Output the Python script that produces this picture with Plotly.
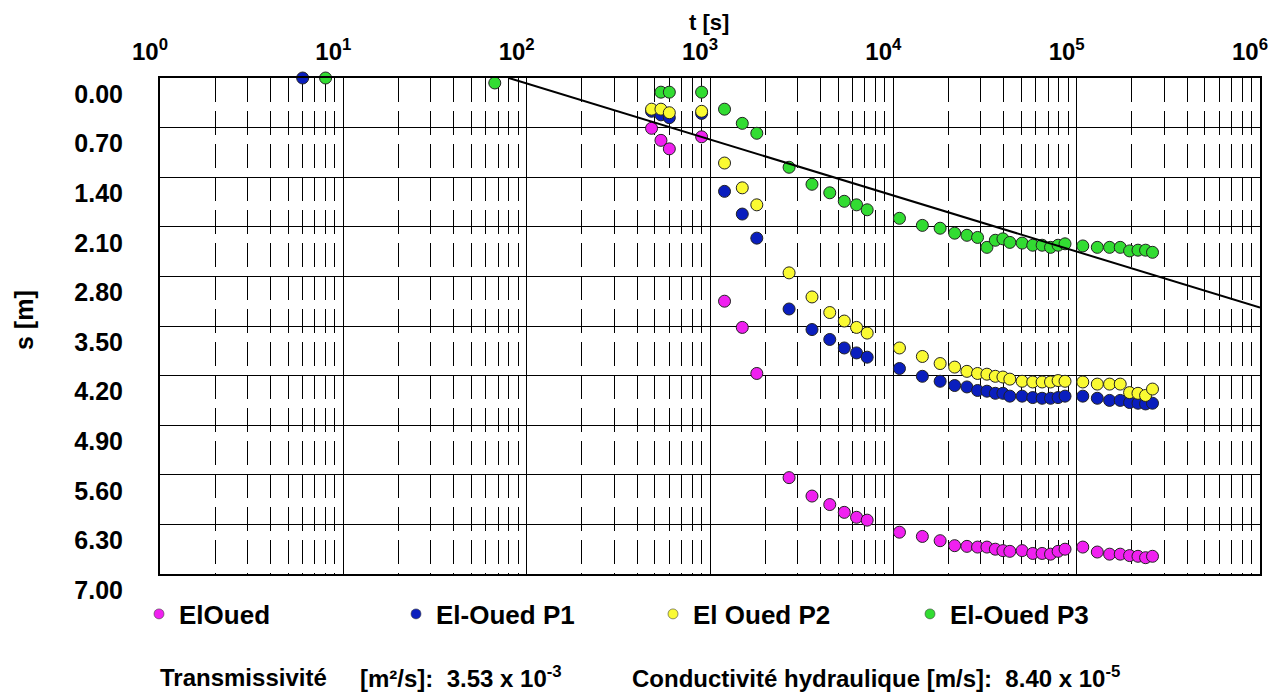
import plotly.graph_objects as go

# ---------------- data ----------------
t_common = [480, 540, 600, 900, 1200, 1500, 1800, 2700, 3600, 4500, 5400, 6300, 7200,
            10800, 14400, 18000, 21600, 25200, 28800, 32400, 36000, 39600, 43200,
            50400, 57600, 64800, 72000, 79200, 86400,
            108000, 129600, 151200, 172800, 194400, 216000, 237600, 259200]

s_eloued = [0.71, 0.88, 1.00, 0.83, 3.15, 3.52, 4.17, 5.64, 5.90, 6.02, 6.13, 6.20, 6.24,
            6.41, 6.47, 6.53, 6.60, 6.61, 6.62, 6.62, 6.65, 6.67, 6.68,
            6.67, 6.71, 6.71, 6.72, 6.68, 6.65,
            6.62, 6.69, 6.72, 6.72, 6.74, 6.75, 6.77, 6.75]

t_p1 = [6] + t_common
s_p1 = [0.0, 0.47, 0.52, 0.56, 0.50, 1.60, 1.92, 2.26, 3.26, 3.55, 3.69, 3.81, 3.88, 3.94,
        4.10, 4.21, 4.28, 4.34, 4.36, 4.41, 4.42, 4.45, 4.45, 4.49,
        4.49, 4.51, 4.52, 4.52, 4.51, 4.49,
        4.49, 4.52, 4.55, 4.55, 4.58, 4.59, 4.60, 4.59]

s_p2 = [0.44, 0.44, 0.49, 0.47, 1.20, 1.55, 1.79, 2.75, 3.09, 3.31, 3.43, 3.52, 3.60,
        3.81, 3.93, 4.03, 4.08, 4.14, 4.17, 4.18, 4.21, 4.22, 4.25,
        4.28, 4.29, 4.29, 4.29, 4.27, 4.28,
        4.29, 4.32, 4.32, 4.32, 4.44, 4.45, 4.48, 4.39]

t_p3 = [8, 67] + t_common[1:]
s_p3 = [0.0, 0.07, 0.20, 0.20, 0.20, 0.44, 0.64, 0.78, 1.26, 1.50, 1.62, 1.74, 1.79, 1.86,
        1.98, 2.08, 2.12, 2.19, 2.22, 2.25, 2.39, 2.29, 2.27, 2.32,
        2.33, 2.36, 2.36, 2.39, 2.36, 2.34,
        2.37, 2.39, 2.39, 2.39, 2.44, 2.43, 2.43, 2.46]

# Cooper-Jacob straight line (end points)
t_fit = [80, 1000000]
s_fit = [0.0, 3.24]

series_names = ["ElOued", "El-Oued P1", "El Oued P2", "El-Oued P3"]
series_colors = ["#F020F0", "#0A1EBE", "#FAFA32", "#32DC32"]

x_tickvals = [1, 10, 100, 1000, 10000, 100000, 1000000]
x_ticktext = ["10<sup>%d</sup>" % i for i in range(7)]
y_tickvals = [0.0, 0.7, 1.4, 2.1, 2.8, 3.5, 4.2, 4.9, 5.6, 6.3, 7.0]
y_ticktext = ["0.00", "0.70", "1.40", "2.10", "2.80", "3.50", "4.20", "4.90", "5.60", "6.30", "7.00"]
minor_vals = [k * 10 ** n for n in range(6) for k in range(2, 10)]

# ---------------- figure ----------------
FONT = "Arial, 'Liberation Sans', sans-serif"
fig = go.Figure()

data_sets = [(t_common, s_eloued), (t_p1, s_p1), (t_common, s_p2), (t_p3, s_p3)]
for (tx, sy), nm, col in zip(data_sets, series_names, series_colors):
    fig.add_trace(go.Scatter(x=tx, y=sy, mode="markers", name=nm, showlegend=False,
                             cliponaxis=False,
                             marker=dict(size=12, color=col, line=dict(color="#222222", width=1))))

fig.add_trace(go.Scatter(x=t_fit, y=s_fit, mode="lines", showlegend=False,
                         line=dict(color="black", width=2)))

for nm, col in zip(series_names, series_colors):
    fig.add_trace(go.Scatter(x=[None], y=[None], mode="markers", name=nm,
                             marker=dict(size=10, color=col, line=dict(color="#444444", width=0.6))))

PX0, PY0, PW, PH = 160, 78, 1100, 496   # plot area in page pixels


def px(xp):
    return (xp - PX0) / PW


def py(yp):
    return (PY0 + PH - yp) / PH


fig.update_layout(
    width=1277, height=686,
    margin=dict(l=152, r=25, t=70, b=120),
    paper_bgcolor="white", plot_bgcolor="white",
    font=dict(family=FONT, color="black"),
    xaxis=dict(type="log", range=[0, 6], side="top",
               tickmode="array", tickvals=x_tickvals, ticktext=x_ticktext,
               tickfont=dict(family=FONT, size=24, color="black", weight="bold"),
               ticks="", ticklabelstandoff=6, ticklabelshift=-10,
               showgrid=True, gridcolor="black", gridwidth=1,
               showline=True, mirror=True, linecolor="black", linewidth=2,
               zeroline=False,
               minor=dict(tickmode="array", tickvals=minor_vals, showgrid=True,
                          gridcolor="black", gridwidth=1, griddash="24px,9px", ticks="")),
    yaxis=dict(range=[7, 0], tickmode="array", tickvals=y_tickvals, ticktext=y_ticktext,
               tickfont=dict(family=FONT, size=25, color="black", weight="bold"),
               ticks="", ticklabelstandoff=30, ticklabelshift=-16,
               showgrid=True, gridcolor="black", gridwidth=1,
               showline=True, mirror=True, linecolor="black", linewidth=2,
               zeroline=False),
    legend=dict(orientation="h", x=px(139), xanchor="left", y=py(614), yanchor="middle",
                font=dict(family=FONT, size=26, color="black", weight="bold"),
                entrywidth=212, entrywidthmode="pixels", bgcolor="rgba(0,0,0,0)"),
    annotations=[
        dict(text="<b>t [s]</b>", xref="paper", yref="paper", x=px(709), y=py(22),
             xanchor="center", yanchor="middle",
             showarrow=False, font=dict(family=FONT, size=22, color="black")),
        dict(text="<b>s [m]</b>", xref="paper", yref="paper", x=px(24), y=py(320),
             xanchor="center", yanchor="middle",
             textangle=-90, showarrow=False, font=dict(family=FONT, size=25, color="black")),
        dict(text="<b>Transmissivité</b>", xref="paper", yref="paper", x=px(158), y=py(677),
             xanchor="left", yanchor="middle", showarrow=False,
             font=dict(family=FONT, size=24, color="black")),
        dict(text="<b>[m²/s]:\u00a0\u00a03.53 x 10<sup>-3</sup></b>", xref="paper", yref="paper",
             x=px(358), y=py(677), xanchor="left", yanchor="middle", showarrow=False,
             font=dict(family=FONT, size=24, color="black")),
        dict(text="<b>Conductivité hydraulique [m/s]:\u00a0\u00a08.40 x 10<sup>-5</sup></b>",
             xref="paper", yref="paper", x=px(630), y=py(677),
             xanchor="left", yanchor="middle", showarrow=False,
             font=dict(family=FONT, size=24, color="black")),
    ],
)

fig.write_html("out.html")
